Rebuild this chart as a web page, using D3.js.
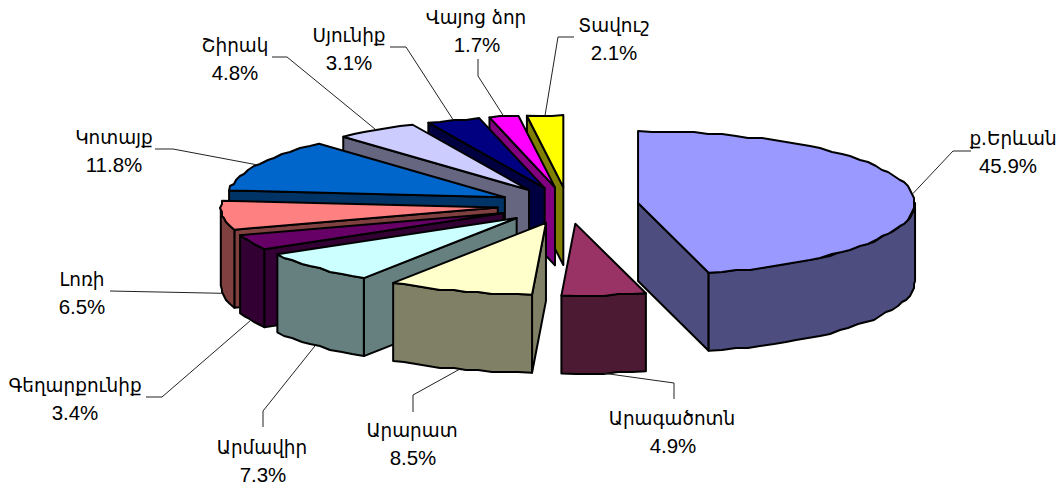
<!DOCTYPE html>
<html>
<head>
<meta charset="utf-8">
<script src="https://cdn.jsdelivr.net/npm/d3@7/dist/d3.min.js"></script>
<style>
html,body{margin:0;padding:0;background:#fff;overflow:hidden;}
svg{display:block;}
text{fill:#000;}
.name{font-family:"DejaVu Sans","Liberation Sans",Arial,sans-serif;font-size:20px;}
.pct{font-family:"Liberation Sans",Arial,sans-serif;font-size:20.5px;}
</style>
</head>
<body>
<svg id="chart" width="1064" height="486"></svg>
<script>
const regions = ["ք.Երևան","Արագածոտն","Արարատ","Արմավիր","Գեղարքունիք","Լոռի","Կոտայք","Շիրակ","Սյունիք","Վայոց ձոր","Տավուշ"];
const shares = [45.9,4.9,8.5,7.3,3.4,6.5,11.8,4.8,3.1,1.7,2.1];
const topColors = ["#9999FF","#993366","#FFFFCC","#CCFFFF","#660066","#FF8080","#0066CC","#CCCCFF","#000080","#FF00FF","#FFFF00"];
const sideColors = ["#4D4D80","#4D1A33","#808066","#668080","#330033","#804040","#003366","#666680","#000040","#800080","#808000"];

// label layout: text centre x, first-line centre y, leader elbows
const nameX = [1013,672,412,262,75,82,114,235,349,476,614];
const pctX = [1008,673,413,263,75,82,114,235,349,477,614];
const labelY = [138,418,430,447,385,279,137,45,35,17,25];
const leaderElbows = [
  [[953,151],[971,151]],
  [[674,383],[674,399]],
  [[413,395],[413,412]],
  [[263,411],[263,427]],
  [[162,397],[146,397]],
  [[110,291]],
  [[173,149],[155,149]],
  [[287,57],[272,57]],
  [[406,47],[390,47]],
  [[478,76],[478,59]],
  [[558,37],[574,37]]
];

const cx = 568, cy = 205.4, rx = 277, ry = 72, depth = 78, explode = 0.255;
const svg = d3.select("#chart");
const xs = d3.scaleLinear().domain([-1,1]).range([-rx,rx]);
const ys = d3.scaleLinear().domain([-1,1]).range([ry,-ry]);
const line = d3.line().curve(d3.curveLinearClosed);
const open = d3.line();
const pie = d3.pie().sort(null).value(d => d);
const arcs = pie(shares);

function onRim(a, o, dz){
  return [o[0] + xs(Math.sin(a)), o[1] + ys(Math.cos(a)) + (dz||0)];
}
function quant(p){ return [Math.round(p[0]/2)*2, Math.round(p[1]/2)*2]; }
function sweep(a0, a1, dz, o){
  const n = Math.max(2, Math.ceil(Math.abs(a1-a0)/(3*Math.PI/180)));
  return d3.range(n+1).map(i => {
    const a = a0 + (a1-a0)*i/n;
    const p = onRim(a, o, dz);
    return (i===0||i===n) ? p : quant(p);
  });
}

const slices = arcs.map((d,i) => {
  const mid = (d.startAngle+d.endAngle)/2;
  const o = [cx + explode*xs(Math.sin(mid)), cy + explode*ys(Math.cos(mid))];
  return {i, d, mid, o};
});

// paint order: largest slice first, then counter-clockwise from the back
const order = [0,10,9,8,7,6,5,4,3,2,1];
order.forEach(k => {
  const s = slices[k], g = svg.append("g");
  const top = topColors[k], side = sideColors[k];
  const style = sel => sel.attr("stroke","#000").attr("stroke-width",2).attr("stroke-linejoin","round");
  const cutFace = a => {
    const r = onRim(a, s.o);
    g.append("path").attr("d", line([s.o, r, [r[0],r[1]+depth], [s.o[0],s.o[1]+depth]])).attr("fill",side).call(style);
  };
  // a cut face shows only when it turns toward the viewer
  if (Math.sin(s.d.startAngle) < -1e-6) cutFace(s.d.startAngle);
  if (Math.sin(s.d.endAngle) > 1e-6) cutFace(s.d.endAngle);
  const f0 = Math.max(s.d.startAngle, Math.PI/2), f1 = Math.min(s.d.endAngle, 3*Math.PI/2);
  if (f1 > f0) {
    const upper = sweep(f0, f1, 0, s.o), lower = sweep(f1, f0, depth, s.o);
    g.append("path").attr("d", line(upper.concat(lower))).attr("fill",side).call(style);
  }
  g.append("path").attr("d", line([s.o].concat(sweep(s.d.startAngle, s.d.endAngle, 0, s.o)))).attr("fill",top).call(style);
});

// leaders
slices.forEach(s => {
  const sn = Math.cos(s.mid) < 0 ? depth : 0;
  const start = onRim(s.mid, s.o, sn);
  svg.append("path").attr("d", open([start].concat(leaderElbows[s.i])))
    .attr("fill","none").attr("stroke","#222").attr("stroke-width",1);
});

// labels
regions.forEach((name,i) => {
  const t = svg.append("text").attr("class","name").attr("text-anchor","middle")
    .attr("x",nameX[i]).attr("y",labelY[i]+7).text(name);
  t.attr("textLength", t.node().getComputedTextLength()*0.92).attr("lengthAdjust","spacingAndGlyphs");
  svg.append("text").attr("class","pct").attr("text-anchor","middle")
    .attr("x",pctX[i]).attr("y",labelY[i]+34.5).text(shares[i].toFixed(1)+"%");
});
</script>
</body>
</html>
